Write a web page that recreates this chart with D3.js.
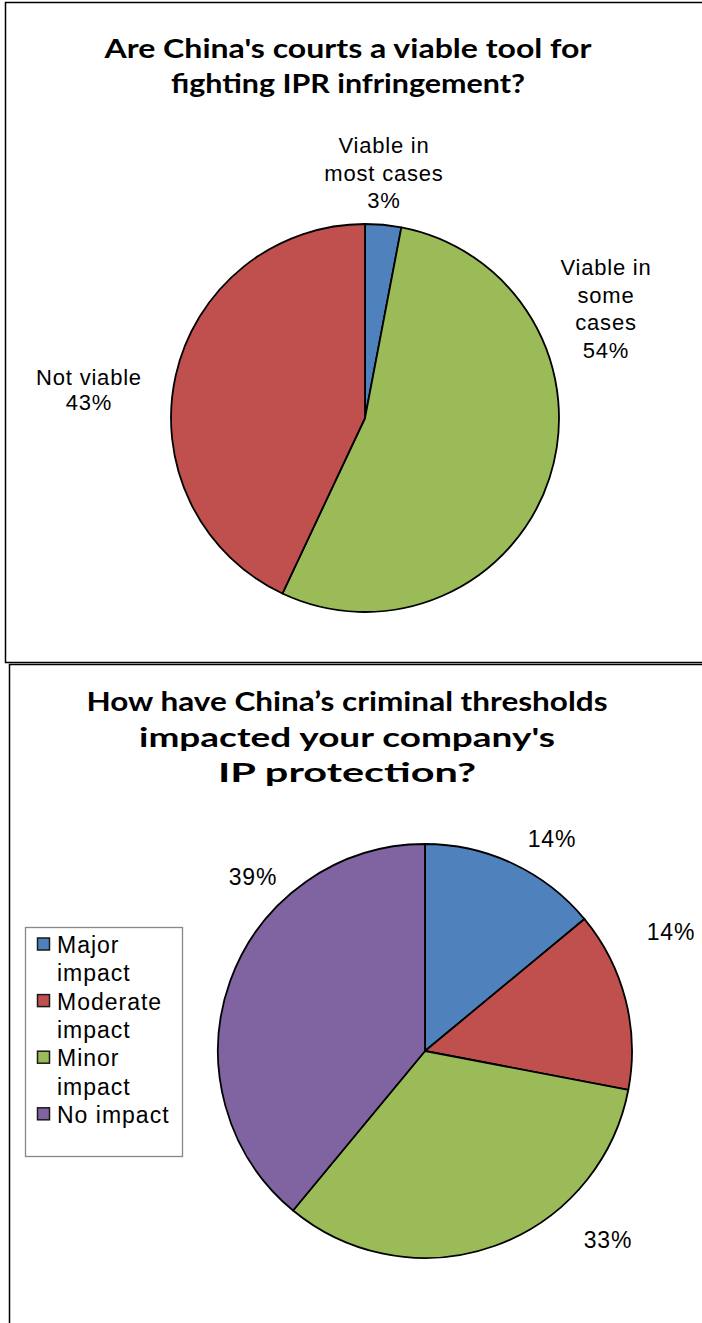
<!DOCTYPE html>
<html>
<head>
<meta charset="utf-8">
<script src="https://cdn.jsdelivr.net/npm/d3@7"></script>
<style>
  html, body { margin: 0; padding: 0; background: #fff; }
  svg { display: block; }
  .title { font-family: "Lato", "DejaVu Sans", sans-serif; font-weight: 700; fill: #000; }
  .lbl { font-family: "Liberation Sans", Arial, sans-serif; fill: #000; letter-spacing: 0.8px; }
  .leg { font-family: "Liberation Sans", Arial, sans-serif; fill: #000; letter-spacing: 1px; font-size: 23px; }
</style>
</head>
<body>
<svg id="chart" width="702" height="1323"></svg>
<script>
// ---- Chart 1: viability of courts ----
const courtCategories = ["Viable in most cases", "Viable in some cases", "Not viable"];
const courtLabelLines = [["Viable in", "most cases"], ["Viable in", "some", "cases"], ["Not viable"]];
const courtValues = [3, 54, 43];

// ---- Chart 2: impact of criminal thresholds ----
const impactCategories = ["Major impact", "Moderate impact", "Minor impact", "No impact"];
const impactLegendLines = [["Major", "impact"], ["Moderate", "impact"], ["Minor", "impact"], ["No impact"]];
const impactValues = [14, 14, 33, 39];

const sliceColors = ["#4F81BD", "#C0504D", "#9BBB59", "#8064A2"];
const courtColors = ["#4F81BD", "#9BBB59", "#C0504D"];

const svg = d3.select("#chart");

// Frames around the two chart areas
svg.append("path")
  .attr("d", "M702,2.5 H5.5 V662.5 H702")
  .attr("fill", "none").attr("stroke", "#000").attr("stroke-width", 1.5);
svg.append("path")
  .attr("d", "M702,664.5 H9.5 V1323")
  .attr("fill", "none").attr("stroke", "#000").attr("stroke-width", 1.5);

function drawTitle(lines, cx, y0, step, size, widths) {
  const t = svg.append("g");
  lines.forEach((ln, i) => {
    const el = t.append("text").attr("class", "title")
      .attr("x", cx).attr("y", y0 + i * step)
      .attr("text-anchor", "middle")
      .attr("font-size", size)
      .text(ln);
    if (widths && widths[i]) el.attr("textLength", widths[i]).attr("lengthAdjust", "spacingAndGlyphs");
  });
}

function drawPie(values, colors, cx, cy, r) {
  const pie = d3.pie().sort(null).value(d => d).startAngle(0).endAngle(2 * Math.PI);
  const arc = d3.arc().innerRadius(0).outerRadius(r);
  const g = svg.append("g").attr("transform", `translate(${cx},${cy})`);
  g.selectAll("path").data(pie(values)).join("path")
    .attr("d", arc)
    .attr("fill", (d, i) => colors[i])
    .attr("stroke", "#000").attr("stroke-width", 1.8)
    .attr("stroke-linejoin", "round");
}

function drawLabel(lines, x, yBase, step, size) {
  const g = svg.append("g");
  lines.forEach((ln, i) => {
    g.append("text").attr("class", "lbl")
      .attr("x", x).attr("y", yBase + i * step)
      .attr("text-anchor", "middle")
      .attr("font-size", size)
      .text(ln);
  });
}

// ---------- Chart 1 ----------
drawTitle(["Are China's courts a viable tool for", "fighting IPR infringement?"], 348, 58, 35, 26, [487, 354]);
drawPie(courtValues, courtColors, 365, 418, 194);
const courtLabelPos = [[384, 153], [606, 275], [89, 385]];
courtValues.forEach((v, i) => {
  const lines = courtLabelLines[i].concat([v + "%"]);
  const step = i === 2 ? 25 : 27.5;
  drawLabel(lines, courtLabelPos[i][0], courtLabelPos[i][1], step, 22);
});

// ---------- Chart 2 ----------
drawTitle(["How have China\u2019s criminal thresholds", "impacted your company's", "IP protection?"], 347, 711, 35.5, 26, [521, 416, 258]);
drawPie(impactValues, sliceColors, 425, 1051, 207);
const impactLabelPos = [[552, 847], [671, 940], [608, 1248], [253, 885]];
impactValues.forEach((v, i) => {
  drawLabel([v + "%"], impactLabelPos[i][0], impactLabelPos[i][1], 0, 23);
});

// Legend
const legend = svg.append("g");
legend.append("rect")
  .attr("x", 25.5).attr("y", 927.5).attr("width", 157).attr("height", 229)
  .attr("fill", "#fff").attr("stroke", "#888").attr("stroke-width", 1.3);
let lineIdx = 0;
const legTop = 953, legStep = 28.3;
impactCategories.forEach((c, i) => {
  const y = legTop + lineIdx * legStep;
  legend.append("rect")
    .attr("x", 37.5).attr("y", y - 15).attr("width", 12).attr("height", 12)
    .attr("fill", sliceColors[i]).attr("stroke", "#1a1a1a").attr("stroke-width", 1.5);
  impactLegendLines[i].forEach((ln, j) => {
    legend.append("text").attr("class", "leg")
      .attr("x", 57).attr("y", y + j * legStep)
      .text(ln);
  });
  lineIdx += impactLegendLines[i].length;
});
</script>
</body>
</html>
